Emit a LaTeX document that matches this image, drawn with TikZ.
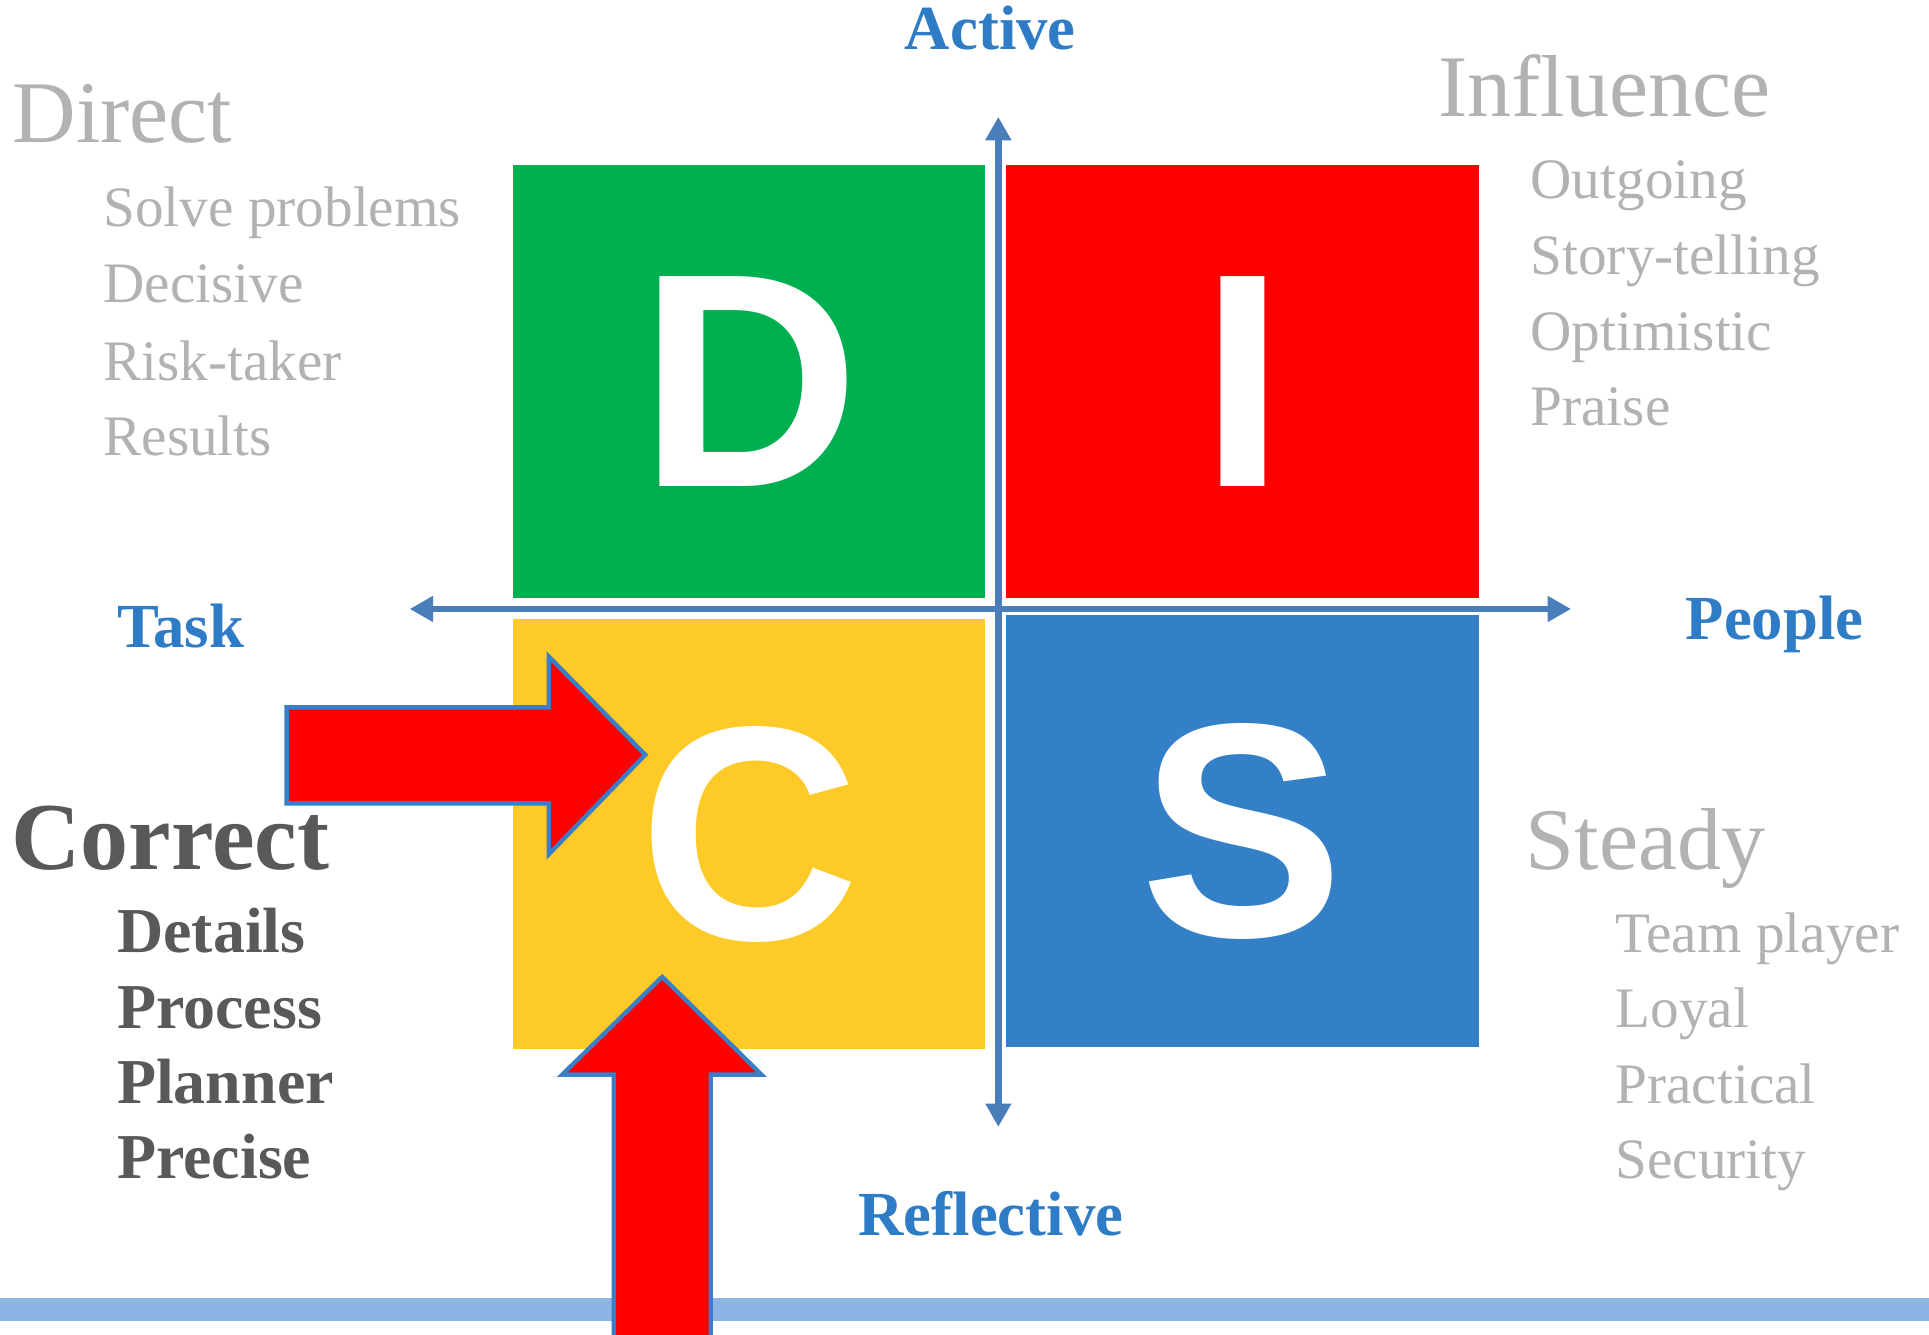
\documentclass[tikz,border=0pt]{standalone}
\usepackage{fontspec}
\setmainfont{Liberation Serif}
\newfontfamily\letterfont{Liberation Sans}
\usetikzlibrary{arrows.meta}
\definecolor{dgreen}{HTML}{00B050}
\definecolor{dred}{HTML}{FF0000}
\definecolor{dyellow}{HTML}{FECA28}
\definecolor{dblue}{HTML}{3480C6}
\definecolor{axisblue}{HTML}{4A7EBB}
\definecolor{labelblue}{HTML}{2E7BC6}
\definecolor{outlineblue}{HTML}{3A7FC6}
\definecolor{barblue}{HTML}{8DB4E2}
\definecolor{lightgray}{HTML}{B2B2B2}
\definecolor{darkgray}{HTML}{595959}
\begin{document}
\begin{tikzpicture}[x=1pt,y=-1pt,
  quad/.style={draw=none, inner sep=0pt, outer sep=0pt, minimum width=384pt,
    text=white, font=\letterfont\bfseries\fontsize{248}{248}\selectfont},
  axisline/.style={draw=axisblue, line width=5.5pt,
    {Triangle[length=19pt,width=20pt]}-{Triangle[length=19pt,width=20pt]}},
  bigarrow/.style={fill=dred, draw=outlineblue, line width=3.5pt, line join=miter},
  lbl/.style={inner sep=0pt, text=labelblue, font=\bfseries\fontsize{51}{57}\selectfont},
  ttl/.style={inner sep=0pt, anchor=base west, text=lightgray, font=\fontsize{71.5}{80}\selectfont},
  itm/.style={inner sep=0pt, anchor=base west, text=lightgray, font=\fontsize{46.5}{54}\selectfont},
  cttl/.style={inner sep=0pt, anchor=base west, text=darkgray, font=\bfseries\fontsize{78}{85}\selectfont},
  citm/.style={inner sep=0pt, anchor=base west, text=darkgray, font=\bfseries\fontsize{52}{58}\selectfont}
]
\useasboundingbox (0,0) rectangle (1568,1085);
\fill[white] (0,0) rectangle (1568,1085);

% bottom bar
\fill[barblue] (0,1055) rectangle (1568,1074);

% quadrants
\node[quad, fill=dgreen, minimum height=352pt] (D) at (609,310) {D};
\node[quad, fill=dred, minimum height=352pt] (I) at (1010,310) {I};
\node[quad, fill=dyellow, minimum height=350pt] (C) at (609,678) {C};
\node[quad, fill=dblue, minimum height=351pt] (S) at (1010,675.5) {S};

% axes
\coordinate (top) at (811.5,95);
\coordinate (bottom) at (811.5,916);
\coordinate (left) at (333,495);
\coordinate (right) at (1277,495);
\draw[axisline] (bottom) -- (top);
\draw[axisline] (left) -- (right);

% axis labels
\node[lbl, anchor=base] (active) at (805,40) {Active};
\node[lbl, anchor=base] (reflective) at (805.5,1004) {Reflective};
\node[lbl, anchor=base west] (task) at (95,526.5) {Task};
\node[lbl, anchor=base west] (people) at (1370,519.5) {People};

% Direct
\node[ttl] (direct) at (10,116) {Direct};
\node[itm] (d1) at (84,184) {Solve problems};
\node[itm] (d2) at (84,246) {Decisive};
\node[itm] (d3) at (84,309) {Risk-taker};
\node[itm] (d4) at (84,370) {Results};

% Influence
\node[ttl] (influence) at (1169,95) {Influence};
\node[itm] (i1) at (1244,161) {Outgoing};
\node[itm] (i2) at (1244,223) {Story-telling};
\node[itm] (i3) at (1244,285) {Optimistic};
\node[itm] (i4) at (1244,346) {Praise};

% Correct
\node[cttl] (correct) at (9,707) {Correct};
\node[citm] (c1) at (95,774) {Details};
\node[citm] (c2) at (95,836) {Process};
\node[citm] (c3) at (95,897) {Planner};
\node[citm] (c4) at (95,958) {Precise};

% Steady
\node[ttl] (steady) at (1240,707) {Steady};
\node[itm] (s1) at (1313,774) {Team player};
\node[itm] (s2) at (1313,835) {Loyal};
\node[itm] (s3) at (1313,897) {Practical};
\node[itm] (s4) at (1313,958) {Security};

% red arrows
\draw[bigarrow] (233,575) -- (446,575) -- (446,533.5) -- (524.5,613.5)
  -- (446,694.5) -- (446,653) -- (233,653) -- cycle;
\draw[bigarrow] (499,1090) -- (499,873.5) -- (457,873.5) -- (538.3,794)
  -- (619,873.5) -- (577.7,873.5) -- (577.7,1090) -- cycle;
\end{tikzpicture}
\end{document}
